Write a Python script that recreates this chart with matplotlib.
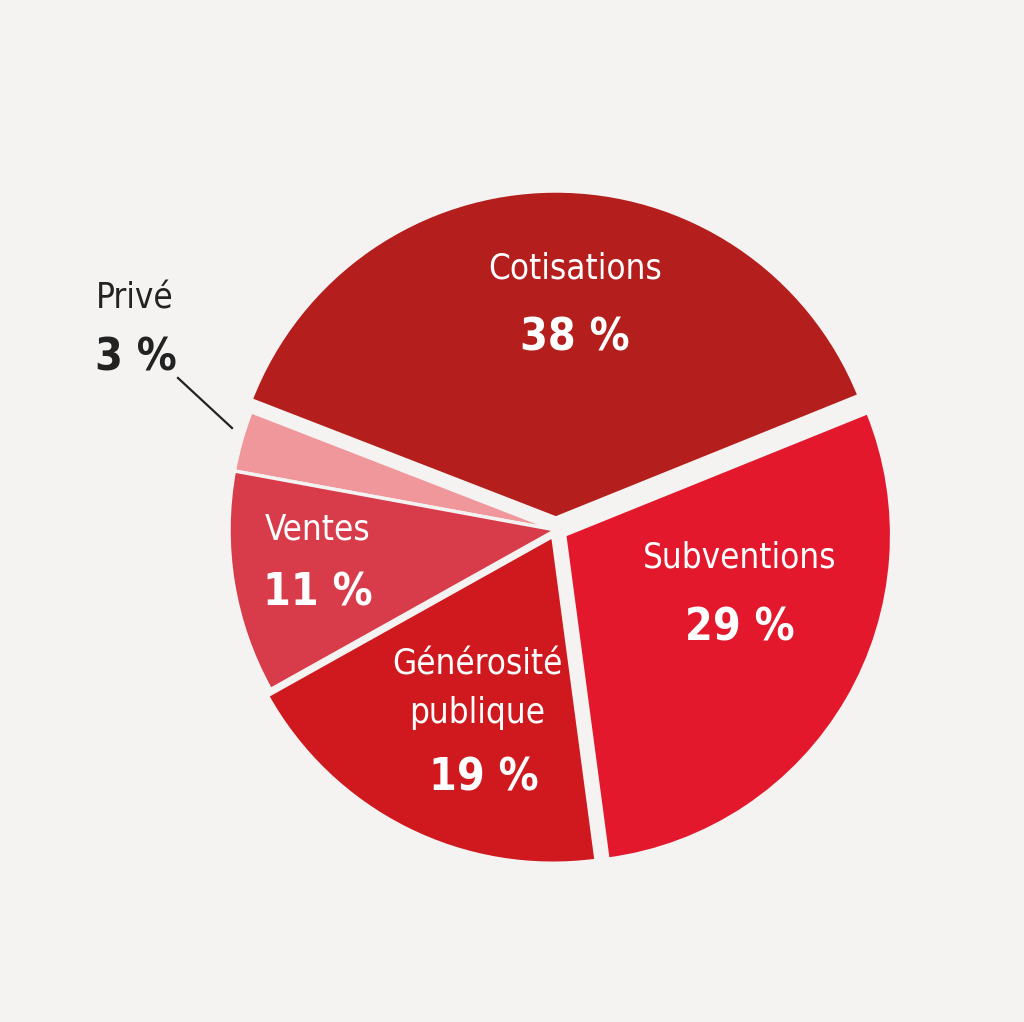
# répartition des ressources - camembert

import numpy as np
import matplotlib.pyplot as plt

labels = ['Cotisations', 'Privé', 'Ventes', 'Générosité\npublique', 'Subventions']
values = [38, 3, 11, 19, 29]
colors = ['#b41e1c', '#f0979b', '#d83c4a', '#cf191f', '#e3182d']
explode = [12, 0, 0, 7, 10]   # décalage en pixels
bg = '#f4f3f2'

W, H = 1024, 1022
fig = plt.figure(figsize=(W / 100, H / 100), dpi=100, facecolor=bg)
ax = fig.add_axes([0, 0, 1, 1])

cx, cy, r = 556, H - 530, 327
wedges, _ = ax.pie(values, colors=colors, startangle=22, counterclock=True,
                   center=(cx, cy), radius=r, explode=explode, frame=True,
                   wedgeprops=dict(edgecolor=bg, linewidth=2.5))
ax.set_xlim(0, W)
ax.set_ylim(0, H)
ax.set_aspect('equal')
ax.set_facecolor(bg)
ax.axis('off')

font = dict(family='DejaVu Sans', fontstretch='condensed', color='white',
            ha='center', va='center')

# étiquettes
ax.text(575, H - 268, 'Cotisations', fontsize=25, **font)
ax.text(575, H - 338, '38 %', fontsize=32, fontweight='bold', **font)
ax.text(740, H - 558, 'Subventions', fontsize=25, **font)
ax.text(740, H - 628, '29 %', fontsize=32, fontweight='bold', **font)
ax.text(318, H - 530, 'Ventes', fontsize=25, **font)
ax.text(318, H - 593, '11 %', fontsize=32, fontweight='bold', **font)
ax.text(477, H - 689, 'Générosité\npublique', fontsize=25, linespacing=1.55, **font)
ax.text(484, H - 778, '19 %', fontsize=32, fontweight='bold', **font)

dark = dict(family='DejaVu Sans', fontstretch='condensed', color='#222222',
            ha='left', va='center')
ax.text(96, H - 298, 'Privé', fontsize=25, **dark)
ax.text(95, H - 358, '3 %', fontsize=32, fontweight='bold', **dark)
ax.plot([178, 232], [H - 378, H - 428], color='#222222', linewidth=1.6)

plt.savefig('out.png', dpi=100, facecolor=bg)
